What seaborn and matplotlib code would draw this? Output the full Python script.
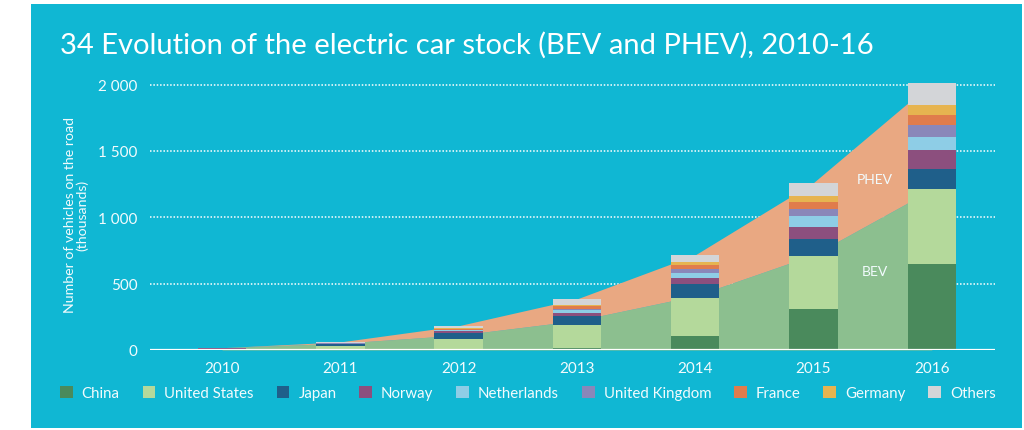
import matplotlib
matplotlib.use("Agg")
import matplotlib.pyplot as plt
from matplotlib.patches import Patch, Rectangle
import seaborn as sns
import pandas as pd
import numpy as np

# stock per country, thousands of vehicles
years = ['2010', '2011', '2012', '2013', '2014', '2015', '2016']
china = [2, 5, 10, 15, 105, 309, 645]
united_states = [4, 22, 76, 172, 290, 403, 570]
japan = [4, 15, 44, 69, 101, 126, 146]
norway = [3, 5, 10, 20, 44, 88, 143]
netherlands = [0.3, 1, 7, 28, 44, 83, 101]
united_kingdom = [1, 1, 3, 8, 24, 50, 88]
france = [0.3, 3, 10, 18, 31, 56, 81]
germany = [0.3, 2, 6, 12, 25, 45, 75]
others = [2, 7, 17, 43, 53, 100, 166]

# powertrain split for the background areas
bev = [17, 51, 112, 221, 408, 717, 1209]
phev = [0.4, 10, 71, 164, 309, 545, 805]

countries = ['China', 'United States', 'Japan', 'Norway', 'Netherlands',
             'United Kingdom', 'France', 'Germany', 'Others']
series = [china, united_states, japan, norway, netherlands,
          united_kingdom, france, germany, others]
colors = ['#4a8a5c', '#b4d99b', '#1f5f8a', '#8c4f7e', '#8ecde6',
          '#8a87b9', '#e07c4c', '#e6b450', '#d3d5d8']

CYAN = '#10b7d3'
WHITE = '#ffffff'
TEXT = '#f2fbfd'

df = pd.DataFrame({'Year': years})
for name, vals in zip(countries, series):
    df[name] = vals
cum = df[countries].cumsum(axis=1)
cum['Year'] = years

plt.rcParams['font.family'] = ['Lato', 'DejaVu Sans']

fig = plt.figure(figsize=(10.24, 4.31), dpi=100, facecolor='white')
fig.patches.append(Rectangle((31 / 1024, 2 / 431), 991 / 1024, 424 / 431,
                             transform=fig.transFigure, facecolor=CYAN,
                             edgecolor='none', zorder=-10))

ax = fig.add_axes([150 / 1024, 80 / 431, 845 / 1024, 272 / 431])
ax.set_facecolor('none')

x = np.arange(len(years))
total = np.array(bev) + np.array(phev)
ax.fill_between(x, 0, bev, color='#8cbf8f', lw=0, zorder=1)
ax.fill_between(x, bev, total, color='#e9a882', lw=0, zorder=1)

# stacked bars: draw cumulative heights from top layer down
for name, col in zip(reversed(countries), reversed(colors)):
    sns.barplot(data=cum, x='Year', y=name, color=col, saturation=1,
                width=0.41, ax=ax, zorder=2, linewidth=0)

ax.set_xlim(-0.609, 6.534)
ax.set_ylim(0, 2050)
for v in [500, 1000, 1500, 2000]:
    ax.axhline(v, color=WHITE, lw=1.1, ls=(0, (1, 1.2)), zorder=0.5)
ax.axhline(0, color=WHITE, lw=1.6, zorder=3)

ax.set_yticks([0, 500, 1000, 1500, 2000])
ax.set_yticklabels(['0', '500', '1 000', '1 500', '2 000'])
ax.tick_params(axis='both', length=0, colors=TEXT, labelsize=11)
ax.tick_params(axis='y', pad=9)
ax.tick_params(axis='x', pad=8)
for s in ax.spines.values():
    s.set_visible(False)
ax.set_xlabel('')
ax.set_ylabel('Number of vehicles on the road\n(thousands)', color=TEXT,
              fontsize=10.2, labelpad=7, linespacing=1.0)

ax.text(5.52, 1290, 'PHEV', color=TEXT, fontsize=10, ha='center', va='center', zorder=4)
ax.text(5.52, 596, 'BEV', color=TEXT, fontsize=10, ha='center', va='center', zorder=4)

fig.text(60 / 1024, 1 - 45 / 431, '34 Evolution of the electric car stock (BEV and PHEV), 2010-16',
         color=WHITE, fontsize=21, ha='left', va='center')

handles = [Patch(facecolor=c, edgecolor='none') for c in colors]
fig.legend(handles, countries, loc='center left', bbox_to_anchor=(60 / 1024, 1 - 394 / 431),
           ncol=9, frameon=False, fontsize=10.8, labelcolor=TEXT,
           handlelength=0.85, handleheight=0.85, handletextpad=0.6, columnspacing=1.52,
           borderaxespad=0, borderpad=0)

fig.savefig('out.png', dpi=100, facecolor='white')
